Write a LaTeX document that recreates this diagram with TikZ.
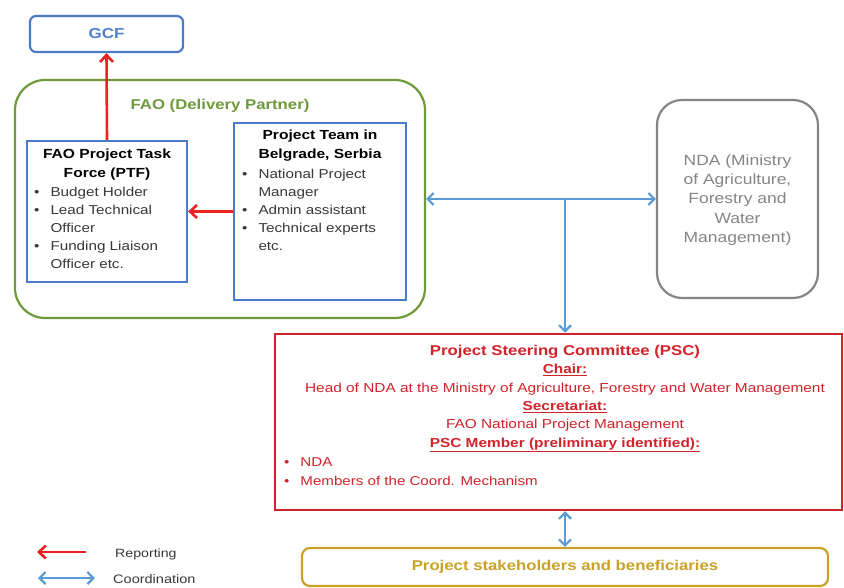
\documentclass[tikz,border=0pt]{standalone}
\usepackage{fontspec}
\setmainfont{Liberation Sans}[FakeStretch=1.18]
\usetikzlibrary{arrows.meta}
\definecolor{boxblue}{HTML}{4A7CC9}
\definecolor{gcfblue}{HTML}{4F7FCB}
\definecolor{faogreen}{HTML}{6E9A3C}
\definecolor{repred}{HTML}{EE2020}
\definecolor{pscred}{HTML}{D2232A}
\definecolor{ndagray}{HTML}{858585}
\definecolor{goldc}{HTML}{C9A227}
\definecolor{coordblue}{HTML}{5B9BD5}
\definecolor{bodygray}{HTML}{383838}
\begin{document}
\begin{tikzpicture}[x=1pt,y=-1pt,
  box/.style={draw, line width=2.2pt, inner sep=0pt},
  report/.style={draw=repred, line width=2.6pt, -{Straight Barb[length=7pt,width=13pt]}},
  coordboth/.style={draw=coordblue, line width=2.2pt, {Straight Barb[length=6pt,width=12pt]}-{Straight Barb[length=6pt,width=12pt]}},
  coordone/.style={draw=coordblue, line width=2.2pt, -{Straight Barb[length=6pt,width=12pt]}},
  title/.style={font=\fontsize{13.2}{19}\selectfont\bfseries, align=center, inner sep=0pt},
  bullets/.style={font=\fontsize{12.9}{18}\selectfont, text=bodygray, inner sep=0pt, anchor=north west},
]
\useasboundingbox (0,0) rectangle (844,588);
\fill[white] (0,0) rectangle (844,588);

% GCF
\node[box, draw=boxblue, rounded corners=6pt, minimum width=153pt, minimum height=36pt,
      text=gcfblue, font=\fontsize{14.4}{17}\selectfont\bfseries] (gcf) at (106.5,34) {GCF};

% FAO container
\node[box, draw=faogreen, rounded corners=30pt, minimum width=410pt, minimum height=238pt] (fao) at (220,199) {};
\node[text=faogreen, font=\fontsize{14.2}{17}\selectfont\bfseries, inner sep=0pt] (faolabel) at (220,106) {FAO (Delivery Partner)};

% PTF
\node[box, draw=boxblue, minimum width=160pt, minimum height=141pt] (ptf) at (107,211.5) {};
\node[title] (ptft) at (107,164.5) {FAO Project Task\\Force (PTF)};
\node[bullets] (ptfb) at (34,184) {%
\begin{tabular}{@{}l@{\hspace{11pt}}l@{}}
\textbullet & Budget Holder\\
\textbullet & Lead Technical\\
 & Officer\\
\textbullet & Funding Liaison\\
 & Officer etc.
\end{tabular}};

% Project team
\node[box, draw=boxblue, minimum width=172pt, minimum height=177pt] (team) at (320,211.5) {};
\node[title] (teamt) at (320,146) {Project Team in\\Belgrade, Serbia};
\node[bullets] (teamb) at (242,166) {%
\begin{tabular}{@{}l@{\hspace{11pt}}l@{}}
\textbullet & National Project\\
 & Manager\\
\textbullet & Admin assistant\\
\textbullet & Technical experts\\
 & etc.
\end{tabular}};

% NDA
\node[box, draw=ndagray, rounded corners=25pt, minimum width=161pt, minimum height=198pt] (nda) at (737.5,199) {};
\node[text=ndagray, align=center, inner sep=0pt, font=\fontsize{14.8}{19.2}\selectfont] (ndat) at (737.5,200)
  {NDA (Ministry\\of Agriculture,\\Forestry and\\Water\\Management)};

% PSC
\node[box, draw=pscred, line width=2.5pt, minimum width=567pt, minimum height=176pt] (psc) at (558.5,422) {};
\node[text=pscred, align=center, inner sep=0pt, font=\fontsize{13.05}{18.4}\selectfont] (psct) at (565,398.5)
  {{\fontsize{14.2}{18.4}\selectfont\bfseries Project Steering Committee (PSC)}\\
   \textbf{\underline{Chair:}}\\
   Head of NDA at the Ministry of Agriculture, Forestry and Water Management\\
   \textbf{\underline{Secretariat:}}\\
   FAO National Project Management\\
   \textbf{\underline{PSC Member (preliminary identified):}}};
\node[text=pscred, inner sep=0pt, anchor=west, font=\fontsize{12.8}{18.6}\selectfont] (pscb) at (284,472.5) {%
\begin{tabular}{@{}l@{\hspace{11pt}}l@{}}
\textbullet & NDA\\
\textbullet & Members of the Coord. Mechanism
\end{tabular}};

% Stakeholders
\node[box, draw=goldc, rounded corners=8pt, minimum width=526pt, minimum height=38pt,
      text=goldc, font=\fontsize{14.2}{17}\selectfont\bfseries] (stake) at (565,567) {Project stakeholders and beneficiaries};

% Reporting arrows
\draw[report] (ptf.north) -- (gcf.south);
\draw[report] (team.west) -- (ptf.east);

% Coordination arrows
\draw[coordboth] (fao.east) -- (nda.west);
\coordinate (junc) at (565,199);
\draw[coordone] (junc) -- (junc |- psc.north);
\draw[coordboth] (stake.north) -- (stake.north |- psc.south);

% Legend
\coordinate (rs) at (86,552);
\coordinate (re) at (37,552);
\draw[report] (rs) -- (re);
\node[anchor=west, inner sep=0pt, text=bodygray, font=\fontsize{12}{14}\selectfont] (lrep) at (115,554) {Reporting};
\coordinate (cs) at (38,578);
\coordinate (ce) at (95,578);
\draw[coordboth] (cs) -- (ce);
\node[anchor=west, inner sep=0pt, text=bodygray, font=\fontsize{12.3}{14}\selectfont] (lcoord) at (113,579) {Coordination};
\end{tikzpicture}
\end{document}
